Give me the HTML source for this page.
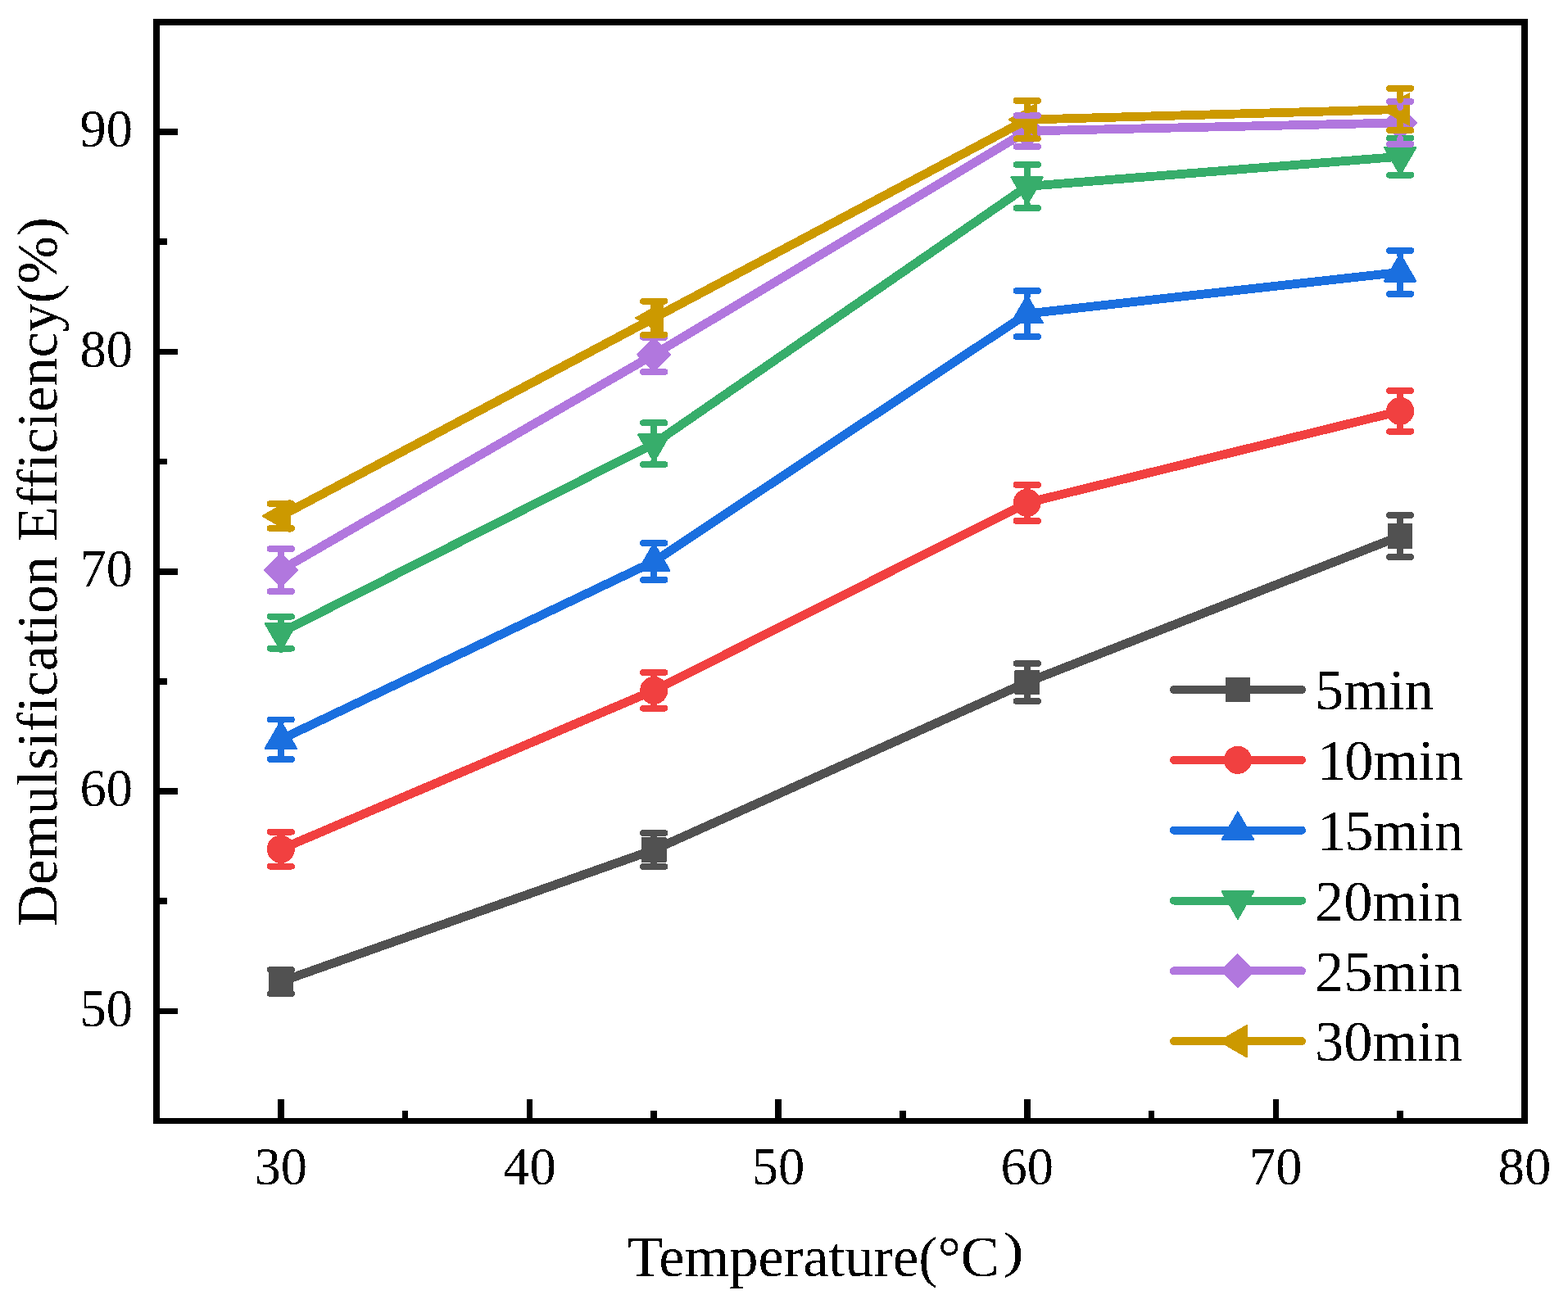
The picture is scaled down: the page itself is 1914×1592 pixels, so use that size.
<!DOCTYPE html>
<html><head><meta charset="utf-8"><title>Demulsification Efficiency vs Temperature</title>
<style>
html,body{margin:0;padding:0;background:#fff;}
svg{display:block;shape-rendering:crispEdges;}
text{font-family:"Liberation Serif","Noto Serif CJK SC",serif;fill:#000;}
</style></head><body>
<svg width="1914" height="1592" viewBox="0 0 1914 1592">
<defs><filter id="alias" x="-5%" y="-5%" width="110%" height="110%"><feComponentTransfer><feFuncA type="discrete" tableValues="0 1"/></feComponentTransfer></filter></defs>
<rect x="0" y="0" width="1914" height="1592" fill="#fff"/>

<path d="M342.82 1368.60V1342.20 M646.45 1368.60V1342.20 M950.09 1368.60V1342.20 M1253.73 1368.60V1342.20 M1557.36 1368.60V1342.20 M1861.00 1368.60V1342.20 M494.64 1368.60V1356.00 M798.27 1368.60V1356.00 M1101.91 1368.60V1356.00 M1405.55 1368.60V1356.00 M1709.18 1368.60V1356.00 M191.00 1234.43H217.20 M191.00 966.09H217.20 M191.00 697.75H217.20 M191.00 429.41H217.20 M191.00 161.07H217.20 M191.00 1100.26H203.80 M191.00 831.92H203.80 M191.00 563.58H203.80 M191.00 295.24H203.80 M191.00 26.90H203.80" stroke="#000" stroke-width="7.6" fill="none"/>
<polyline points="342.82,1198.50 798.27,1037.50 1253.73,833.00 1709.18,654.50" fill="none" stroke="#515151" stroke-width="10.8" stroke-linejoin="round" stroke-linecap="round"/>
<rect x="328.57" y="1184.25" width="28.5" height="28.5" fill="#515151" stroke="#515151" stroke-width="2" stroke-linejoin="round"/>
<rect x="784.02" y="1023.25" width="28.5" height="28.5" fill="#515151" stroke="#515151" stroke-width="2" stroke-linejoin="round"/>
<rect x="1239.48" y="818.75" width="28.5" height="28.5" fill="#515151" stroke="#515151" stroke-width="2" stroke-linejoin="round"/>
<rect x="1694.93" y="640.25" width="28.5" height="28.5" fill="#515151" stroke="#515151" stroke-width="2" stroke-linejoin="round"/>
<polyline points="342.82,1036.70 798.27,842.90 1253.73,613.90 1709.18,501.90" fill="none" stroke="#F14040" stroke-width="10.8" stroke-linejoin="round" stroke-linecap="round"/>
<circle cx="342.82" cy="1036.70" r="16.0" fill="#F14040" stroke="#F14040" stroke-width="2"/>
<circle cx="798.27" cy="842.90" r="16.0" fill="#F14040" stroke="#F14040" stroke-width="2"/>
<circle cx="1253.73" cy="613.90" r="16.0" fill="#F14040" stroke="#F14040" stroke-width="2"/>
<circle cx="1709.18" cy="501.90" r="16.0" fill="#F14040" stroke="#F14040" stroke-width="2"/>
<polyline points="342.82,902.70 798.27,685.50 1253.73,383.00 1709.18,332.40" fill="none" stroke="#1A6FDF" stroke-width="10.8" stroke-linejoin="round" stroke-linecap="round"/>
<polygon points="342.82,880.47 362.07,913.81 323.57,913.81" fill="#1A6FDF" stroke="#1A6FDF" stroke-width="2" stroke-linejoin="round"/>
<polygon points="798.27,663.27 817.52,696.61 779.02,696.61" fill="#1A6FDF" stroke="#1A6FDF" stroke-width="2" stroke-linejoin="round"/>
<polygon points="1253.73,360.77 1272.98,394.11 1234.48,394.11" fill="#1A6FDF" stroke="#1A6FDF" stroke-width="2" stroke-linejoin="round"/>
<polygon points="1709.18,310.17 1728.43,343.51 1689.93,343.51" fill="#1A6FDF" stroke="#1A6FDF" stroke-width="2" stroke-linejoin="round"/>
<polyline points="342.82,772.20 798.27,541.60 1253.73,227.50 1709.18,191.20" fill="none" stroke="#37AD6B" stroke-width="10.8" stroke-linejoin="round" stroke-linecap="round"/>
<polygon points="342.82,794.43 362.07,761.09 323.57,761.09" fill="#37AD6B" stroke="#37AD6B" stroke-width="2" stroke-linejoin="round"/>
<polygon points="798.27,563.83 817.52,530.49 779.02,530.49" fill="#37AD6B" stroke="#37AD6B" stroke-width="2" stroke-linejoin="round"/>
<polygon points="1253.73,249.73 1272.98,216.39 1234.48,216.39" fill="#37AD6B" stroke="#37AD6B" stroke-width="2" stroke-linejoin="round"/>
<polygon points="1709.18,213.43 1728.43,180.09 1689.93,180.09" fill="#37AD6B" stroke="#37AD6B" stroke-width="2" stroke-linejoin="round"/>
<polyline points="342.82,696.00 798.27,432.90 1253.73,160.00 1709.18,149.90" fill="none" stroke="#B177DE" stroke-width="10.8" stroke-linejoin="round" stroke-linecap="round"/>
<polygon points="342.82,676.00 362.82,696.00 342.82,716.00 322.82,696.00" fill="#B177DE" stroke="#B177DE" stroke-width="2" stroke-linejoin="round"/>
<polygon points="798.27,412.90 818.27,432.90 798.27,452.90 778.27,432.90" fill="#B177DE" stroke="#B177DE" stroke-width="2" stroke-linejoin="round"/>
<polygon points="1253.73,140.00 1273.73,160.00 1253.73,180.00 1233.73,160.00" fill="#B177DE" stroke="#B177DE" stroke-width="2" stroke-linejoin="round"/>
<polygon points="1709.18,129.90 1729.18,149.90 1709.18,169.90 1689.18,149.90" fill="#B177DE" stroke="#B177DE" stroke-width="2" stroke-linejoin="round"/>
<polyline points="342.82,630.00 798.27,388.30 1253.73,146.10 1709.18,133.50" fill="none" stroke="#CC9900" stroke-width="10.8" stroke-linejoin="round" stroke-linecap="round"/>
<polygon points="320.59,630.00 353.93,610.75 353.93,649.25" fill="#CC9900" stroke="#CC9900" stroke-width="2" stroke-linejoin="round"/>
<polygon points="776.05,388.30 809.39,369.05 809.39,407.55" fill="#CC9900" stroke="#CC9900" stroke-width="2" stroke-linejoin="round"/>
<polygon points="1231.50,146.10 1264.84,126.85 1264.84,165.35" fill="#CC9900" stroke="#CC9900" stroke-width="2" stroke-linejoin="round"/>
<polygon points="1686.96,133.50 1720.30,114.25 1720.30,152.75" fill="#CC9900" stroke="#CC9900" stroke-width="2" stroke-linejoin="round"/>
<path d="M329.62 1183.90H356.02M342.82 1183.90V1185.30M329.62 1213.10H356.02M342.82 1213.10V1211.70M785.07 1017.00H811.47M798.27 1017.00V1024.30M785.07 1058.00H811.47M798.27 1058.00V1050.70M1240.53 810.00H1266.93M1253.73 810.00V819.80M1240.53 856.00H1266.93M1253.73 856.00V846.20M1695.98 629.00H1722.38M1709.18 629.00V641.30M1695.98 680.00H1722.38M1709.18 680.00V667.70" fill="none" stroke="#515151" stroke-width="7.7" stroke-linecap="round"/>
<path d="M329.62 1015.70H356.02M342.82 1015.70V1021.90M329.62 1057.70H356.02M342.82 1057.70V1051.50M785.07 821.00H811.47M798.27 821.00V828.10M785.07 864.80H811.47M798.27 864.80V857.70M1240.53 591.90H1266.93M1253.73 591.90V599.10M1240.53 635.90H1266.93M1253.73 635.90V628.70M1695.98 477.00H1722.38M1709.18 477.00V487.10M1695.98 526.80H1722.38M1709.18 526.80V516.70" fill="none" stroke="#F14040" stroke-width="7.7" stroke-linecap="round"/>
<path d="M329.62 878.50H356.02M342.82 878.50V881.70M329.62 926.90H356.02M342.82 926.90V912.20M785.07 663.10H811.47M798.27 663.10V664.50M785.07 707.90H811.47M798.27 707.90V695.00M1240.53 355.00H1266.93M1253.73 355.00V362.00M1240.53 411.00H1266.93M1253.73 411.00V392.50M1695.98 305.90H1722.38M1709.18 305.90V311.40M1695.98 358.90H1722.38M1709.18 358.90V341.90" fill="none" stroke="#1A6FDF" stroke-width="7.7" stroke-linecap="round"/>
<path d="M329.62 752.70H356.02M342.82 752.70V762.70M329.62 791.70H356.02M342.82 791.70V793.20M785.07 516.20H811.47M798.27 516.20V532.10M785.07 567.00H811.47M798.27 567.00V562.60M1240.53 201.00H1266.93M1253.73 201.00V218.00M1240.53 254.00H1266.93M1253.73 254.00V248.50M1695.98 168.60H1722.38M1709.18 168.60V181.70M1695.98 213.80H1722.38M1709.18 213.80V212.20" fill="none" stroke="#37AD6B" stroke-width="7.7" stroke-linecap="round"/>
<path d="M329.62 670.00H356.02M342.82 670.00V677.00M329.62 722.00H356.02M342.82 722.00V715.00M785.07 411.85H811.47M798.27 411.85V413.90M785.07 453.95H811.47M798.27 453.95V451.90M1240.53 141.00H1266.93M1253.73 141.00V141.00M1240.53 179.00H1266.93M1253.73 179.00V179.00M1695.98 123.90H1722.38M1709.18 123.90V130.90M1695.98 175.90H1722.38M1709.18 175.90V168.90" fill="none" stroke="#B177DE" stroke-width="7.7" stroke-linecap="round"/>
<path d="M329.62 615.00H356.02M342.82 615.00V618.50M329.62 645.00H356.02M342.82 645.00V641.50M785.07 367.80H811.47M798.27 367.80V376.80M785.07 408.80H811.47M798.27 408.80V399.80M1240.53 122.90H1266.93M1253.73 122.90V134.60M1240.53 169.30H1266.93M1253.73 169.30V157.60M1695.98 107.90H1722.38M1709.18 107.90V122.00M1695.98 159.10H1722.38M1709.18 159.10V145.00" fill="none" stroke="#CC9900" stroke-width="7.7" stroke-linecap="round"/>
<rect x="191.00" y="26.90" width="1670.00" height="1341.70" fill="none" stroke="#000" stroke-width="7.6" stroke-linejoin="miter"/>
<line x1="1432.9" y1="842.00" x2="1589" y2="842.00" stroke="#515151" stroke-width="10" stroke-linecap="round"/>
<rect x="1496.65" y="827.75" width="28.5" height="28.5" fill="#515151" stroke="#515151" stroke-width="2" stroke-linejoin="round"/>
<line x1="1432.9" y1="927.84" x2="1589" y2="927.84" stroke="#F14040" stroke-width="10" stroke-linecap="round"/>
<circle cx="1510.90" cy="927.84" r="16.0" fill="#F14040" stroke="#F14040" stroke-width="2"/>
<line x1="1432.9" y1="1013.68" x2="1589" y2="1013.68" stroke="#1A6FDF" stroke-width="10" stroke-linecap="round"/>
<polygon points="1510.90,991.45 1530.15,1024.79 1491.65,1024.79" fill="#1A6FDF" stroke="#1A6FDF" stroke-width="2" stroke-linejoin="round"/>
<line x1="1432.9" y1="1099.52" x2="1589" y2="1099.52" stroke="#37AD6B" stroke-width="10" stroke-linecap="round"/>
<polygon points="1510.90,1121.75 1530.15,1088.41 1491.65,1088.41" fill="#37AD6B" stroke="#37AD6B" stroke-width="2" stroke-linejoin="round"/>
<line x1="1432.9" y1="1185.36" x2="1589" y2="1185.36" stroke="#B177DE" stroke-width="10" stroke-linecap="round"/>
<polygon points="1510.90,1165.36 1530.90,1185.36 1510.90,1205.36 1490.90,1185.36" fill="#B177DE" stroke="#B177DE" stroke-width="2" stroke-linejoin="round"/>
<line x1="1432.9" y1="1271.20" x2="1589" y2="1271.20" stroke="#CC9900" stroke-width="10" stroke-linecap="round"/>
<polygon points="1488.67,1271.20 1522.01,1251.95 1522.01,1290.45" fill="#CC9900" stroke="#CC9900" stroke-width="2" stroke-linejoin="round"/>
<g filter="url(#alias)">
<text x="342.82" y="1445.6" font-size="64.5" text-anchor="middle">30</text>
<text x="646.45" y="1445.6" font-size="64.5" text-anchor="middle">40</text>
<text x="950.09" y="1445.6" font-size="64.5" text-anchor="middle">50</text>
<text x="1253.73" y="1445.6" font-size="64.5" text-anchor="middle">60</text>
<text x="1557.36" y="1445.6" font-size="64.5" text-anchor="middle">70</text>
<text x="1861.00" y="1445.6" font-size="64.5" text-anchor="middle">80</text>
<text x="162" y="1252.73" font-size="64.5" text-anchor="end">50</text>
<text x="162" y="984.39" font-size="64.5" text-anchor="end">60</text>
<text x="162" y="716.05" font-size="64.5" text-anchor="end">70</text>
<text x="162" y="447.71" font-size="64.5" text-anchor="end">80</text>
<text x="162" y="179.37" font-size="64.5" text-anchor="end">90</text>
<text x="766" y="1558" font-size="70.5">Temperature(°C</text>
<text transform="translate(1224.3,1547) scale(1.25,1)" font-size="61">)</text>
<text transform="translate(69.3,1131) rotate(-90)" font-size="70.2">Demulsification Efficiency(%)</text>
<text x="1605" y="865.90" font-size="70.5">5min</text>
<text x="1605" y="951.80" font-size="70.5"><tspan dx="3">1</tspan><tspan dx="-2">0min</tspan></text>
<text x="1605" y="1037.70" font-size="70.5"><tspan dx="3">1</tspan><tspan dx="-2">5min</tspan></text>
<text x="1605" y="1123.60" font-size="70.5">20min</text>
<text x="1605" y="1209.50" font-size="70.5">25min</text>
<text x="1605" y="1295.40" font-size="70.5">30min</text>
</g>
</svg>
</body></html>
